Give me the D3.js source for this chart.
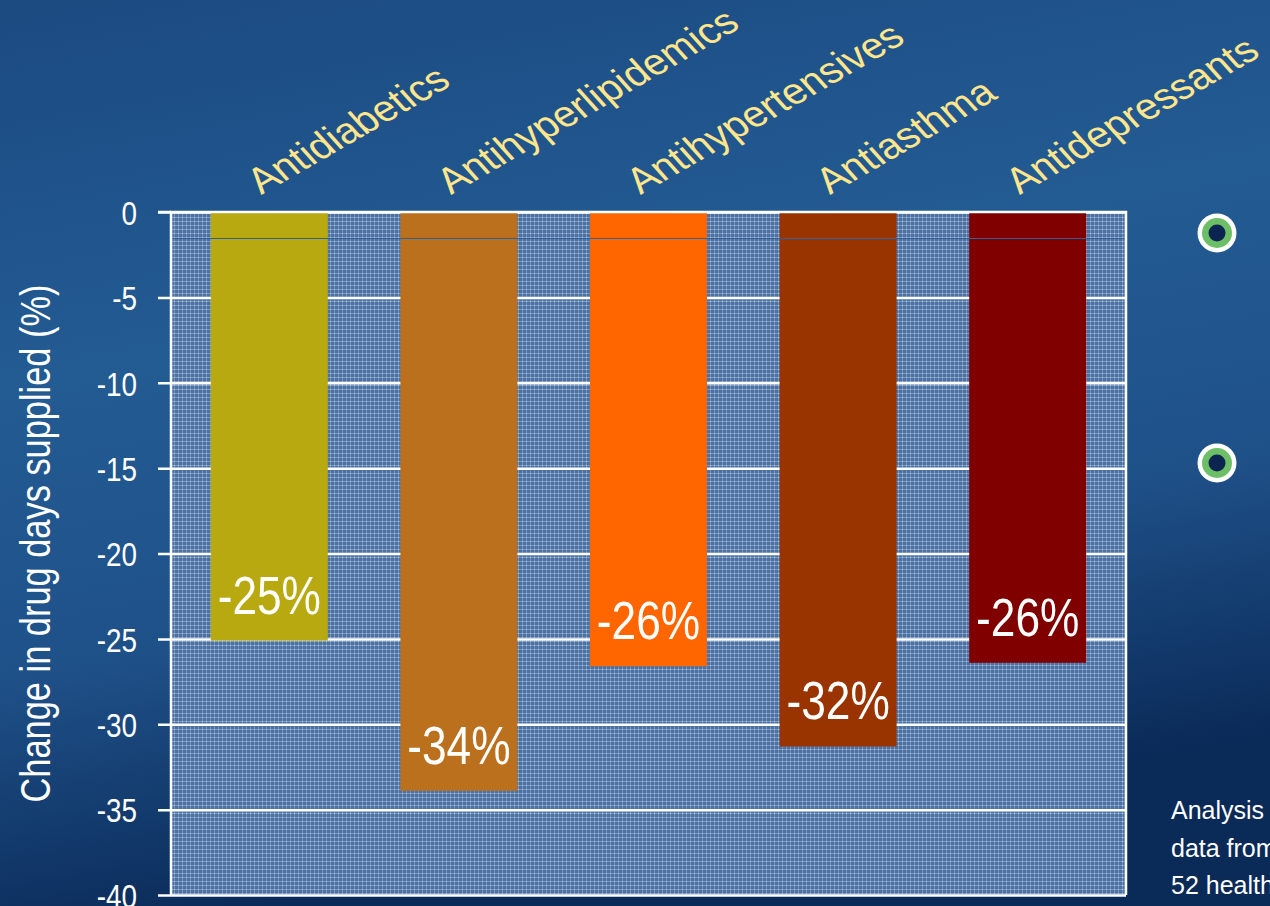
<!DOCTYPE html>
<html>
<head>
<meta charset="utf-8">
<script src="https://cdn.jsdelivr.net/npm/d3@7"></script>
<style>
  body { margin: 0; padding: 0; overflow: hidden; }
  svg { display: block; }
</style>
</head>
<body>
<svg id="chart"></svg>
<script>
// data
var categories = ["Antidiabetics", "Antihyperlipidemics", "Antihypertensives", "Antiasthma", "Antidepressants"]
var values = [-25.1, -33.9, -26.6, -31.3, -26.4]
var valueLabels = ["-25%", "-34%", "-26%", "-32%", "-26%"]
var barColors = ["#b8a910", "#bb701d", "#ff6600", "#993300", "#800000"]
var yTicks = [0, -5, -10, -15, -20, -25, -30, -35, -40]
var noteLines = ["Analysis", "data from", "52 health"]

var dimensions = {
    width: 1270,
    height: 906,
    margin: {
        top: 212,
        bottom: 11,
        right: 144,
        left: 171}
    }

// no narrow font installed, so squeeze Liberation Sans sideways
var sans = "'Liberation Sans', Arial, sans-serif"
var squeeze = 0.82

var svg = d3.select("#chart")
        .attr("width", dimensions.width)
        .attr("height", dimensions.height)

var defs = svg.append("defs")

var bg = defs.append("linearGradient")
        .attr("id", "bg")
        .attr("x1", 0).attr("y1", 0).attr("x2", 0.25).attr("y2", 1)
bg.append("stop").attr("offset", "0%").attr("stop-color", "#1b4a81")
bg.append("stop").attr("offset", "40%").attr("stop-color", "#235b93")
bg.append("stop").attr("offset", "70%").attr("stop-color", "#1f5189")
bg.append("stop").attr("offset", "100%").attr("stop-color", "#0a2a58")

// checkered texture of the plot area
var pat = defs.append("pattern")
        .attr("id", "tex")
        .attr("width", 4).attr("height", 4)
        .attr("patternUnits", "userSpaceOnUse")
pat.append("rect").attr("width", 4).attr("height", 4).attr("fill", "#4d72a2")
pat.append("rect").attr("x", 0).attr("y", 1).attr("width", 4).attr("height", 1).attr("fill", "#7a98c0")
pat.append("rect").attr("x", 2).attr("y", 0).attr("width", 1).attr("height", 4).attr("fill", "#7491bb")
pat.append("rect").attr("x", 2).attr("y", 1).attr("width", 1).attr("height", 1).attr("fill", "#b3c6e0")

svg.append("rect")
    .attr("width", dimensions.width)
    .attr("height", dimensions.height)
    .attr("fill", "url(#bg)")

var x0 = dimensions.margin.left
var x1 = dimensions.width - dimensions.margin.right
var y0 = dimensions.margin.top
var y1 = dimensions.height - dimensions.margin.bottom

var xScale = d3.scaleBand()
        .domain(categories)
        .range([x0, x1])
        .paddingInner(0.383)
        .paddingOuter(0.21)

var yScale = d3.scaleLinear()
        .domain([0, -40])
        .range([y0, y1])

svg.append("rect")
    .attr("x", x0)
    .attr("y", y0)
    .attr("width", x1 - x0)
    .attr("height", y1 - y0)
    .attr("fill", "url(#tex)")

// gridlines + ticks
var yAxis = svg.append("g")
        .attr("transform", "translate(" + x0 + ",0)")
        .call(d3.axisLeft(yScale)
            .tickValues(yTicks)
            .tickSize(-(x1 - x0))
            .tickFormat(d3.format("d")))
yAxis.select(".domain").remove()
yAxis.selectAll(".tick line")
    .attr("x1", -13)
    .attr("stroke", "#ffffff")
    .attr("stroke-width", 2.5)
yAxis.selectAll(".tick text")
    .attr("x", 0)
    .attr("transform", "translate(-34,0) scale(" + squeeze + ",1)")
    .attr("fill", "#ffffff")
    .attr("font-family", sans)
    .attr("font-size", 34)
    .attr("dy", "0.36em")
    .text(d => d == 0 ? "0" : "-" + Math.abs(d))

var bars = svg.selectAll(".bar")
        .data(categories)
        .enter()
        .append("rect")
        .attr("class", "bar")
        .attr("x", d => xScale(d))
        .attr("y", yScale(0))
        .attr("width", xScale.bandwidth())
        .attr("height", (d, i) => yScale(values[i]) - yScale(0))
        .attr("fill", (d, i) => barColors[i])

// thin seam just under the top of the plot
svg.append("line")
    .attr("x1", x0).attr("x2", x1 + 2)
    .attr("y1", Math.round(yScale(-1.5)) + 0.5).attr("y2", Math.round(yScale(-1.5)) + 0.5)
    .attr("stroke", "#2f6098")
    .attr("stroke-width", 1)

// frame: axis line, top and right edge
svg.append("path")
    .attr("d", "M" + x0 + "," + y1 + "V" + y0 + "H" + x1 + "V" + y1)
    .attr("fill", "none")
    .attr("stroke", "#ffffff")
    .attr("stroke-width", 2.5)
svg.append("line")
    .attr("x1", x0 - 13).attr("x2", x0)
    .attr("y1", y0).attr("y2", y0)
    .attr("stroke", "#ffffff")
    .attr("stroke-width", 2.5)

var labels = svg.selectAll(".vlabel")
        .data(categories)
        .enter()
        .append("text")
        .attr("class", "vlabel")
        .attr("transform", (d, i) => "translate(" + (xScale(d) + xScale.bandwidth() / 2) + "," + (yScale(values[i]) - 27) + ") scale(" + squeeze + ",1)")
        .attr("text-anchor", "middle")
        .attr("fill", "#ffffff")
        .attr("font-family", sans)
        .attr("font-size", 54)
        .text((d, i) => valueLabels[i])

// slanted category names: rotated baseline, glyphs leaning less than the baseline
var catLabels = svg.selectAll(".clabel")
        .data(categories)
        .enter()
        .append("text")
        .attr("class", "clabel")
        .attr("transform", d => "translate(" + (xScale(d) + xScale.bandwidth() / 2 - 8) + ",195) rotate(-30) skewX(12)")
        .attr("fill", "#ffe58c")
        .attr("font-family", sans)
        .attr("font-size", 39)
        .text(d => d)

svg.append("text")
    .attr("transform", "translate(50," + ((y0 + y1) / 2 - 10) + ") rotate(-90) scale(0.8,1)")
    .attr("text-anchor", "middle")
    .attr("fill", "#ffffff")
    .attr("font-family", sans)
    .attr("font-size", 43)
    .text("Change in drug days supplied (%)")

// slide bullets on the right
var bulletY = [233, 463]
var bullets = svg.selectAll(".bullet")
        .data(bulletY)
        .enter()
        .append("g")
        .attr("class", "bullet")
        .attr("transform", d => "translate(1217," + d + ")")
bullets.append("circle").attr("r", 19.5).attr("fill", "#ffffff")
bullets.append("circle").attr("r", 15).attr("fill", "#6dbf67")
bullets.append("circle").attr("r", 8.5).attr("fill", "#0b2450")

svg.selectAll(".note")
    .data(noteLines)
    .enter()
    .append("text")
    .attr("class", "note")
    .attr("x", 1171)
    .attr("y", (d, i) => 819 + i * 37.5)
    .attr("fill", "#ffffff")
    .attr("font-family", sans)
    .attr("font-size", 25)
    .text(d => d)
</script>
</body>
</html>
